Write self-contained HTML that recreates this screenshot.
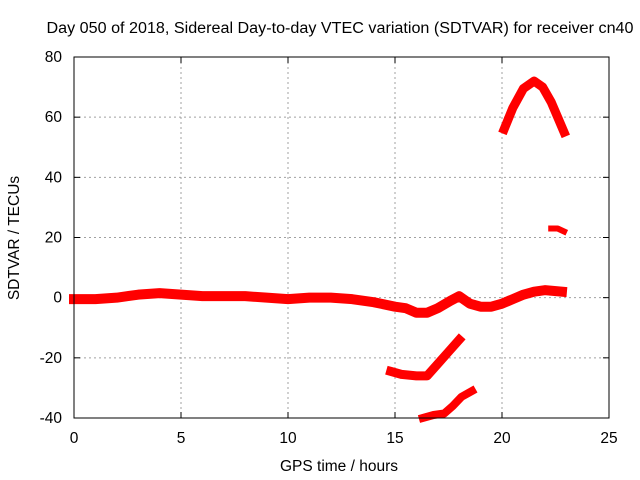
<!DOCTYPE html>
<html><head><meta charset="utf-8"><style>
body{margin:0;background:#fff;}
svg{display:block;font-family:"Liberation Sans",sans-serif;}
</style></head><body>
<svg id="c" width="640" height="480" xmlns="http://www.w3.org/2000/svg">
<text x="340" y="33" font-size="15.5" text-anchor="middle" textLength="587" lengthAdjust="spacingAndGlyphs">Day 050 of 2018, Sidereal Day-to-day VTEC variation (SDTVAR) for receiver cn40</text>
<text x="339" y="471" font-size="15.5" text-anchor="middle">GPS time / hours</text>
<text transform="translate(19,238) rotate(-90)" font-size="15.5" text-anchor="middle">SDTVAR / TECUs</text>
<g id="grid"></g><g id="ticks"></g><g id="marks"></g>
<rect x="74" y="57" width="535" height="361" fill="none" stroke="#000" stroke-width="1"/>
</svg>
<script>
const xTicks=[0,5,10,15,20,25];
const yTicks=[-40,-20,0,20,40,60,80];
const seriesMain=[[0,-0.5],[1,-0.5],[2,0],[3,1],[4,1.5],[5,1],[6,0.5],[7,0.5],[8,0.5],[9,0],[10,-0.5],[11,0],[12,0],[13,-0.5],[14,-1.5],[15,-3],[15.5,-3.5],[16,-5],[16.5,-5],[17,-3.5],[17.6,-1],[18,0.5],[18.5,-2],[19,-3],[19.5,-3],[20,-2],[20.5,-0.5],[21,1],[21.5,2],[22,2.5],[22.8,2]];
const seriesArc=[[20.1,56],[20.5,63],[21,69.5],[21.5,72],[21.9,70],[22.3,65],[22.6,60],[22.9,55]];
const seriesShort=[[22.3,23],[22.6,23],[22.9,22]];
const seriesMid=[[14.8,-24.5],[15.3,-25.5],[16,-26],[16.5,-26],[17,-22],[17.5,-18],[18,-14]];
const seriesLow=[[16.3,-40],[16.8,-39],[17.3,-38.5],[17.7,-36],[18.1,-33],[18.6,-31]];
const X=v=>74+v*535/25, Y=v=>418-(v+40)*361/120;
const NS="http://www.w3.org/2000/svg";
const g=document.getElementById('grid'),t=document.getElementById('ticks'),m=document.getElementById('marks');
function el(p,tag,a){const e=document.createElementNS(NS,tag);for(const k in a)e.setAttribute(k,a[k]);p.appendChild(e);return e;}
xTicks.forEach(v=>{
 if(v>0&&v<25){const l=el(g,'line',{x1:X(v),x2:X(v),y1:57,y2:418,stroke:'#a0a0a0','stroke-dasharray':'2,3'});
 
 }
 el(t,'line',{x1:X(v),x2:X(v),y1:418,y2:412,stroke:'#000'});el(t,'line',{x1:X(v),x2:X(v),y1:57,y2:63,stroke:'#000'});
 const tx=el(t,'text',{x:X(v),y:443,'font-size':15.5,'text-anchor':'middle'});tx.textContent=v;
 
 
});
yTicks.forEach(v=>{
 if(v>-40&&v<80){const l=el(g,'line',{x1:74,x2:609,y1:Y(v),y2:Y(v),stroke:'#a0a0a0','stroke-dasharray':'2,3'});
 
 }
 el(t,'line',{x1:74,x2:80,y1:Y(v),y2:Y(v),stroke:'#000'});el(t,'line',{x1:609,x2:603,y1:Y(v),y2:Y(v),stroke:'#000'});
 const tx=el(t,'text',{x:62,y:Y(v)+5,'font-size':15.5,'text-anchor':'end'});tx.textContent=v;
 
 
});
[['series-main',seriesMain,10],['series-arc',seriesArc,9],['series-short',seriesShort,6],['series-mid',seriesMid,9],['series-low',seriesLow,8]].forEach(([n,d,w])=>{
 const p=el(m,'polyline',{points:d.map(q=>X(q[0])+','+Y(q[1])).join(' '),fill:'none',stroke:'#f00','stroke-width':w,'stroke-linejoin':'round','stroke-linecap':'square'});
 
 
});
</script>
</body></html>
